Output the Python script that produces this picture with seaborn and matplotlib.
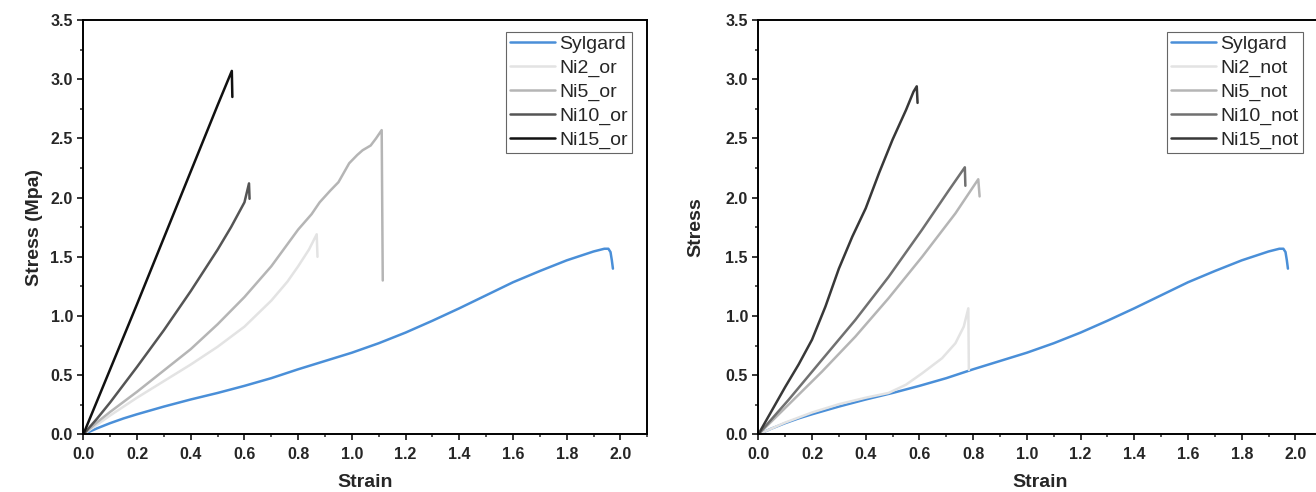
# Curvas tensión-deformación: Sylgard frente a muestras con Ni
import numpy as np
import pandas as pd
import matplotlib
matplotlib.use('Agg')
import matplotlib.pyplot as plt
import seaborn as sns
from matplotlib.ticker import MultipleLocator

# Datos (strain, stress)
sylgard_x = [0.0, 0.05, 0.1, 0.15, 0.2, 0.3, 0.4, 0.5, 0.6, 0.7, 0.8, 0.9, 1.0, 1.1, 1.2, 1.3, 1.4,
             1.5, 1.6, 1.7, 1.8, 1.9, 1.94, 1.955, 1.963, 1.968, 1.972]
sylgard_y = [0.0, 0.05, 0.095, 0.135, 0.17, 0.235, 0.295, 0.35, 0.41, 0.475, 0.55, 0.62, 0.69, 0.77,
             0.86, 0.96, 1.065, 1.175, 1.285, 1.38, 1.47, 1.545, 1.568, 1.568, 1.54, 1.47, 1.40]

# Panel izquierdo (_or)
ni2_or_x = [0.0, 0.1, 0.2, 0.3, 0.4, 0.5, 0.6, 0.7, 0.76, 0.8, 0.84, 0.869, 0.872]
ni2_or_y = [0.0, 0.16, 0.31, 0.45, 0.59, 0.74, 0.91, 1.13, 1.29, 1.42, 1.56, 1.69, 1.50]
ni5_or_x = [0.0, 0.05, 0.1, 0.2, 0.3, 0.4, 0.5, 0.6, 0.7, 0.8, 0.85, 0.88, 0.92, 0.95, 0.99, 1.02,
            1.04, 1.07, 1.09, 1.111, 1.115]
ni5_or_y = [0.0, 0.10, 0.19, 0.36, 0.54, 0.72, 0.93, 1.16, 1.42, 1.73, 1.86, 1.96, 2.06, 2.13, 2.29,
            2.36, 2.40, 2.44, 2.50, 2.57, 1.30]
ni10_or_x = [0.0, 0.05, 0.1, 0.2, 0.3, 0.4, 0.5, 0.55, 0.6, 0.617, 0.619]
ni10_or_y = [0.0, 0.13, 0.27, 0.57, 0.88, 1.21, 1.56, 1.75, 1.96, 2.12, 1.99]
ni15_or_x = [0.0, 0.1, 0.2, 0.3, 0.4, 0.5, 0.553, 0.555]
ni15_or_y = [0.0, 0.55, 1.10, 1.66, 2.22, 2.78, 3.07, 2.85]

# Panel derecho (_not)
ni2_not_x = [0.0, 0.1, 0.2, 0.3, 0.4, 0.485, 0.55, 0.61, 0.684, 0.734, 0.765, 0.782, 0.784]
ni2_not_y = [0.0, 0.10, 0.185, 0.255, 0.31, 0.35, 0.42, 0.516, 0.643, 0.77, 0.91, 1.065, 0.545]
ni5_not_x = [0.0, 0.112, 0.237, 0.361, 0.485, 0.61, 0.734, 0.819, 0.824]
ni5_not_y = [0.0, 0.25, 0.53, 0.825, 1.15, 1.50, 1.867, 2.155, 2.01]
ni10_not_x = [0.0, 0.05, 0.112, 0.237, 0.361, 0.485, 0.61, 0.709, 0.769, 0.771]
ni10_not_y = [0.0, 0.13, 0.29, 0.63, 0.966, 1.33, 1.73, 2.06, 2.256, 2.10]
ni15_not_x = [0.0, 0.05, 0.1, 0.15, 0.2, 0.25, 0.3, 0.35, 0.4, 0.45, 0.5, 0.55, 0.578, 0.59, 0.593]
ni15_not_y = [0.0, 0.20, 0.40, 0.59, 0.80, 1.08, 1.40, 1.67, 1.91, 2.21, 2.49, 2.74, 2.895, 2.94, 2.80]

left_series = [('Sylgard', sylgard_x, sylgard_y, '#4a8fd8'),
               ('Ni2_or', ni2_or_x, ni2_or_y, '#e3e3e3'),
               ('Ni5_or', ni5_or_x, ni5_or_y, '#b5b5b5'),
               ('Ni10_or', ni10_or_x, ni10_or_y, '#555555'),
               ('Ni15_or', ni15_or_x, ni15_or_y, '#111111')]
right_series = [('Sylgard', sylgard_x, sylgard_y, '#4a8fd8'),
                ('Ni2_not', ni2_not_x, ni2_not_y, '#e3e3e3'),
                ('Ni5_not', ni5_not_x, ni5_not_y, '#b5b5b5'),
                ('Ni10_not', ni10_not_x, ni10_not_y, '#707070'),
                ('Ni15_not', ni15_not_x, ni15_not_y, '#383838')]

sns.set_style('ticks')
plt.rcParams['font.family'] = ['Liberation Sans', 'DejaVu Sans']

fig = plt.figure(figsize=(13.16, 4.92), dpi=100)
ax1 = fig.add_axes([83.3/1316, 57.6/492, 564/1316, 414.4/492])
ax2 = fig.add_axes([758.3/1316, 57.6/492, 564/1316, 414.4/492])


def draw(ax, series, ylabel, leg_x, ypad):
    for name, xs, ys, col in series:
        df = pd.DataFrame({'Strain': xs, 'Stress': ys})
        sns.lineplot(data=df, x='Strain', y='Stress', ax=ax, color=col,
                     lw=1.8, sort=False, estimator=None, label=name)
    ax.set_xlim(0, 2.1)
    ax.set_ylim(0, 3.5)
    ax.xaxis.set_major_locator(MultipleLocator(0.2))
    ax.xaxis.set_minor_locator(MultipleLocator(0.1))
    ax.yaxis.set_major_locator(MultipleLocator(0.5))
    ax.yaxis.set_minor_locator(MultipleLocator(0.25))
    ax.tick_params(which='major', direction='out', length=4.5, width=1.3, labelsize=11.5)
    ax.tick_params(which='minor', direction='out', length=2.5, width=1.1)
    ax.tick_params(axis='x', which='major', pad=4.5)
    ax.tick_params(axis='y', which='major', pad=3)
    for lab in ax.get_xticklabels() + ax.get_yticklabels():
        lab.set_fontweight('bold')
    for sp in ax.spines.values():
        sp.set_visible(True)
        sp.set_linewidth(1.4)
        sp.set_color('black')
    ax.set_xlabel('Strain', fontsize=14, fontweight='bold', labelpad=9)
    ax.set_ylabel(ylabel, fontsize=14, fontweight='bold', labelpad=ypad)
    leg = ax.legend(loc='upper right', bbox_to_anchor=(leg_x, 0.972), fontsize=14,
                    frameon=True, fancybox=False, framealpha=1, edgecolor='#666666',
                    handlelength=2.3, handletextpad=0.25, labelspacing=0.32,
                    borderpad=0.2, borderaxespad=0)
    leg.get_frame().set_linewidth(0.8)


draw(ax1, left_series, 'Stress (Mpa)', 0.973, 5)
draw(ax2, right_series, 'Stress', 0.965, 15)

plt.savefig('out.png', dpi=100)
